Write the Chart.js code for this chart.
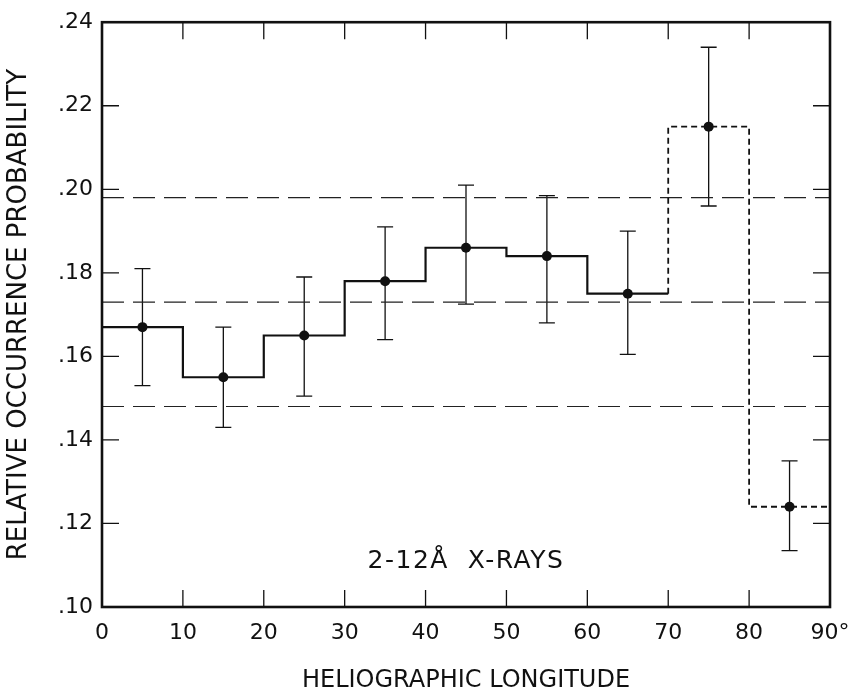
<!DOCTYPE html>
<html>
<head>
<meta charset="utf-8">
<script src="https://cdn.jsdelivr.net/npm/chart.js@4.4.1/dist/chart.umd.min.js"></script>
<style>
  html, body { margin: 0; padding: 0; background: #fff; }
  canvas { display: block; }
</style>
</head>
<body>
<canvas id="chart" width="855" height="695"></canvas>
<script>
// longitude bins (degrees) and measured occurrence probabilities
const binEdges = [0, 10, 20, 30, 40, 50, 60, 70, 80, 90];
const binCenters = [5, 15, 25, 35, 45, 55, 65, 75, 85];
const probability = [0.167, 0.155, 0.165, 0.178, 0.186, 0.184, 0.175, 0.215, 0.124];
const errUpper = [0.181, 0.167, 0.179, 0.191, 0.201, 0.1985, 0.190, 0.234, 0.135];
const errLower = [0.153, 0.143, 0.1505, 0.164, 0.1725, 0.168, 0.1605, 0.196, 0.1135];

// horizontal dashed reference levels
const refLevels = [0.198, 0.173, 0.148];

// axis ticks
const xTicks = [0, 10, 20, 30, 40, 50, 60, 70, 80, 90];
const yTicks = [0.10, 0.12, 0.14, 0.16, 0.18, 0.20, 0.22, 0.24];

const dashedFrom = 70; // bins from here on are drawn dashed
const ink = '#111';
const FONT = "'DejaVu Sans', sans-serif";

Chart.defaults.font.family = FONT;
Chart.defaults.color = ink;

// step outline: value of each bin sits on its right edge (stepped 'after')
const stepPoints = [{x: binEdges[0], y: probability[0]}]
    .concat(probability.map((p, i) => ({x: binEdges[i + 1], y: p})));

const refSets = refLevels.map(v => ({
    type: 'line',
    data: [{x: binEdges[0], y: v}, {x: binEdges[binEdges.length - 1], y: v}],
    borderColor: '#222',
    borderWidth: 1.2,
    borderDash: [22, 9],
    pointRadius: 0
}));

// error bars, frame, inward ticks and the in-plot label
const extras = {
    id: 'extras',
    beforeDatasetsDraw(chart) {
        const {ctx, scales: {x, y}} = chart;
        ctx.save();
        ctx.strokeStyle = ink;
        ctx.lineWidth = 1.3;
        binCenters.forEach((c, i) => {
            const px = x.getPixelForValue(c);
            const top = y.getPixelForValue(errUpper[i]);
            const bot = y.getPixelForValue(errLower[i]);
            ctx.beginPath();
            ctx.moveTo(px, top); ctx.lineTo(px, bot);
            ctx.moveTo(px - 8, top); ctx.lineTo(px + 8, top);
            ctx.moveTo(px - 8, bot); ctx.lineTo(px + 8, bot);
            ctx.stroke();
        });
        ctx.restore();
    },
    afterDraw(chart) {
        const {ctx, chartArea: a, scales: {x, y}} = chart;
        ctx.save();
        ctx.strokeStyle = ink;
        ctx.lineWidth = 2.6;
        ctx.strokeRect(a.left, a.top, a.right - a.left, a.bottom - a.top);

        ctx.lineWidth = 1.3;
        const tl = 17;
        ctx.beginPath();
        xTicks.slice(1, -1).forEach(v => {
            const px = x.getPixelForValue(v);
            ctx.moveTo(px, a.bottom); ctx.lineTo(px, a.bottom - tl);
            ctx.moveTo(px, a.top); ctx.lineTo(px, a.top + tl);
        });
        yTicks.slice(1, -1).forEach(v => {
            const py = y.getPixelForValue(v);
            ctx.moveTo(a.left, py); ctx.lineTo(a.left + tl, py);
            ctx.moveTo(a.right, py); ctx.lineTo(a.right - tl, py);
        });
        ctx.stroke();

        ctx.fillStyle = ink;
        ctx.font = '25px ' + FONT;
        ctx.letterSpacing = '1.5px';
        ctx.textAlign = 'center';
        ctx.textBaseline = 'middle';
        ctx.fillText('2-12Å  X-RAYS', x.getPixelForValue(45), y.getPixelForValue(0.111));
        ctx.restore();
    }
};

new Chart(document.getElementById('chart'), {
    type: 'scatter',
    data: {
        datasets: [
            {
                type: 'scatter',
                data: binCenters.map((c, i) => ({x: c, y: probability[i]})),
                pointRadius: 5,
                pointBackgroundColor: ink,
                pointBorderColor: ink,
                pointBorderWidth: 0
            },
            {
                type: 'line',
                data: stepPoints,
                stepped: 'after',
                borderColor: ink,
                borderWidth: 2.2,
                pointRadius: 0,
                segment: {
                    borderDash: ctx => ctx.p0.parsed.x >= dashedFrom ? [6, 4] : undefined,
                    borderWidth: ctx => ctx.p0.parsed.x >= dashedFrom ? 1.8 : undefined
                }
            },
            ...refSets
        ]
    },
    options: {
        responsive: false,
        animation: false,
        layout: {padding: {left: 0, right: 25, top: 17, bottom: 0}},
        plugins: {legend: {display: false}, tooltip: {enabled: false}},
        scales: {
            x: {
                type: 'linear',
                min: 0,
                max: 90,
                afterBuildTicks: s => { s.ticks = xTicks.map(v => ({value: v})); },
                afterFit: s => { s.height = 88; s.paddingLeft = 0; s.paddingRight = 0; },
                grid: {display: false, drawTicks: false},
                border: {display: false},
                ticks: {
                    font: {size: 22},
                    color: ink,
                    padding: 13,
                    maxRotation: 0,
                    callback: v => v === 90 ? '90°' : String(v)
                },
                title: {
                    display: true,
                    text: 'HELIOGRAPHIC LONGITUDE',
                    font: {size: 24},
                    color: ink,
                    padding: {top: 0, bottom: 0}
                }
            },
            y: {
                type: 'linear',
                min: 0.10,
                max: 0.24,
                afterBuildTicks: s => { s.ticks = yTicks.map(v => ({value: v})); },
                afterFit: s => { s.width = 102; },
                grid: {display: false, drawTicks: false},
                border: {display: false},
                ticks: {
                    font: {size: 22},
                    color: ink,
                    padding: 9,
                    callback: v => '.' + Math.round(v * 100)
                },
                title: {
                    display: true,
                    text: 'RELATIVE OCCURRENCE PROBABILITY',
                    font: {size: 26},
                    color: ink,
                    padding: {top: 4, bottom: 0}
                }
            }
        }
    },
    plugins: [extras]
});
</script>
</body>
</html>
